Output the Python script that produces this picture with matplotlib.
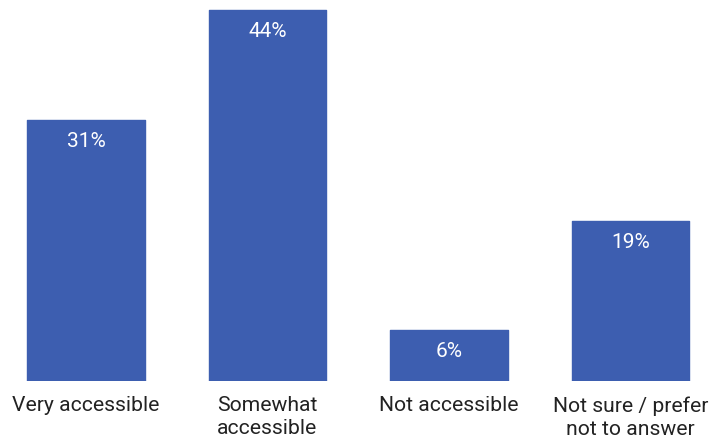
import numpy as np
import matplotlib.pyplot as plt

plt.rcParams['font.family'] = ['Roboto', 'DejaVu Sans']

# Данные
categories = ['Very accessible', 'Somewhat\naccessible', 'Not accessible',
              'Not sure / prefer\nnot to answer']
values = [31, 44, 6, 19]
labels = ['31%', '44%', '6%', '19%']

fig = plt.figure(figsize=(7.23, 4.41), dpi=100)
ax = fig.add_axes([0, 60 / 441, 1, 381 / 441])

x = np.arange(len(categories))
bars = ax.bar(x, values, width=0.65, color='#3d5eb0', edgecolor='#3d5eb0',
              linewidth=1, joinstyle='round')

# Подписи внутри столбцов
for xi, v, lab in zip(x, values, labels):
    ax.annotate(lab, (xi, v), xytext=(0, -15.5), textcoords='offset points',
                ha='center', va='center', color='white', fontsize=15)

ax.set_xlim(-86 / 181.5, (723 - 86) / 181.5)
ax.set_ylim(0, 45.2)
ax.set_xticks(x)
ax.set_xticklabels(categories, fontsize=15.2, color='#222222', linespacing=1.25)
ax.tick_params(axis='x', length=0, pad=11)
ax.set_yticks([])
for s in ax.spines.values():
    s.set_visible(False)

fig.savefig('out.png', dpi=100)
